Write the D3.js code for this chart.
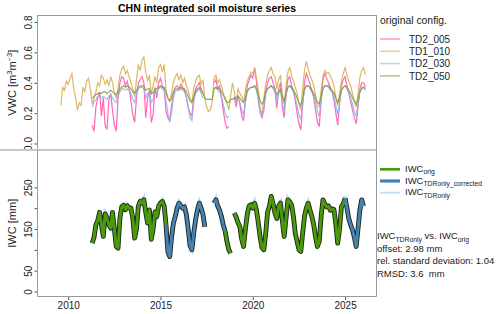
<!DOCTYPE html>
<html>
<head>
<meta charset="utf-8">
<script src="https://cdnjs.cloudflare.com/ajax/libs/d3/7.8.5/d3.min.js"></script>
<style>
  body { margin: 0; background: #fff; }
  svg { font-family: "Liberation Sans", Arial, sans-serif; }
</style>
</head>
<body>
<script>
var w = 500;
var h = 314;
var step = 0.1; // years between samples

// VWC [m3 m-3], TD1_010 starts earlier than the others
var td1Start = 2009.6;
var td1_010 = [
  0.25, 0.37, 0.35, 0.41,
  0.39, 0.43, 0.46, 0.36, 0.30, 0.22, 0.27, 0.25, 0.37, 0.34,
  0.41, 0.43, 0.36, 0.26, 0.30, 0.34, 0.40, 0.38, 0.45, 0.43,
  0.39, 0.42, 0.38, 0.44, 0.40, 0.33, 0.30, 0.36, 0.45, 0.49,
  0.51, 0.46, 0.48, 0.44, 0.40, 0.36, 0.31, 0.42, 0.52, 0.48,
  0.55, 0.57, 0.47, 0.41, 0.45, 0.32, 0.38, 0.44, 0.40, 0.50,
  0.52, 0.47, 0.52, 0.34, 0.30, 0.28, 0.33, 0.40, 0.44, 0.46,
  0.42, 0.45, 0.40, 0.43, 0.38, 0.35, 0.30, 0.27, 0.36, 0.41,
  0.44, 0.45, 0.39, 0.42, 0.30, 0.24, 0.21, 0.22, 0.27, 0.43,
  0.45, 0.40, 0.42, 0.38, 0.33, 0.30, 0.27, 0.22, 0.31, 0.40,
  0.34, 0.27, 0.36, 0.33, 0.31, 0.28, 0.35, 0.41, 0.44, 0.47,
  0.46, 0.49, 0.43, 0.35, 0.22, 0.20, 0.30, 0.39, 0.45, 0.48,
  0.50, 0.46, 0.44, 0.36, 0.42, 0.45, 0.32, 0.26, 0.38, 0.47,
  0.50, 0.45, 0.41, 0.37, 0.33, 0.26, 0.22, 0.36, 0.48, 0.54,
  0.49, 0.45, 0.42, 0.38, 0.32, 0.25, 0.24, 0.35, 0.44, 0.48,
  0.46, 0.47, 0.44, 0.42, 0.38, 0.30, 0.25, 0.33, 0.41, 0.46,
  0.50, 0.45, 0.41, 0.38, 0.33, 0.28, 0.24, 0.33, 0.43, 0.48,
  0.50, 0.45
];

var tdStart = 2011.3;
var td2_005 = [
  0.12, 0.08, 0.24, 0.30, 0.34, 0.18, 0.30,
  0.12, 0.09, 0.28, 0.33, 0.22, 0.12, 0.08, 0.30, 0.40, 0.44,
  0.43, 0.38, 0.41, 0.36, 0.28, 0.19, 0.14, 0.30, 0.40, 0.42,
  0.44, 0.40, 0.17, 0.30, 0.35, 0.14, 0.19, 0.37, 0.30, 0.40,
  0.43, 0.38, 0.36, 0.21, 0.17, 0.15, 0.25, 0.33, 0.37, 0.38,
  0.36, 0.39, 0.37, 0.35, 0.30, 0.24, 0.20, 0.18, 0.30, 0.36,
  0.38, 0.40, 0.36, 0.33, null, null, null, null, null, 0.40,
  0.42, 0.36, 0.38, 0.30, 0.22, 0.14, 0.10, 0.11, null, null,
  0.30, 0.24, 0.32, 0.26, 0.18, 0.15, 0.28, 0.38, 0.42, 0.45,
  0.43, 0.50, 0.40, 0.28, 0.20, 0.17, 0.22, 0.34, 0.40, 0.43,
  0.44, 0.40, 0.36, 0.23, 0.36, 0.40, 0.24, 0.17, 0.33, 0.42,
  0.44, 0.38, 0.35, 0.28, 0.20, 0.13, 0.09, 0.25, 0.40, 0.46,
  0.43, 0.39, 0.35, 0.30, 0.22, 0.14, 0.11, 0.28, 0.42, 0.46,
  0.43, 0.40, 0.37, 0.34, 0.28, 0.20, 0.12, 0.26, 0.38, 0.42,
  0.44, 0.38, 0.33, 0.28, 0.22, 0.17, 0.13, 0.24, 0.36, 0.40,
  0.40, 0.37
];
var td2_030 = [
  0.24, 0.27, 0.29, 0.31, 0.32, 0.30, 0.31,
  0.30, 0.29, 0.31, 0.32, 0.30, 0.28, 0.27, 0.31, 0.34, 0.36,
  0.36, 0.35, 0.36, 0.35, 0.33, 0.29, 0.27, 0.33, 0.36, 0.37,
  0.37, 0.36, 0.30, 0.33, 0.34, 0.27, 0.29, 0.35, 0.34, 0.36,
  0.37, 0.36, 0.35, 0.28, 0.20, 0.14, 0.20, 0.30, 0.34, 0.35,
  0.35, 0.36, 0.35, 0.34, 0.31, 0.24, 0.17, 0.15, 0.27, 0.33,
  0.35, 0.36, 0.33, 0.30, null, null, null, null, null, 0.36,
  0.37, 0.35, 0.34, 0.31, 0.26, 0.20, 0.17, 0.18, null, null,
  0.31, 0.28, 0.30, 0.27, 0.22, 0.19, 0.27, 0.34, 0.36, 0.37,
  0.37, 0.38, 0.35, 0.29, 0.22, 0.18, 0.24, 0.33, 0.36, 0.37,
  0.38, 0.36, 0.34, 0.28, 0.33, 0.35, 0.27, 0.21, 0.32, 0.37,
  0.38, 0.36, 0.34, 0.30, 0.25, 0.19, 0.16, 0.26, 0.35, 0.38,
  0.38, 0.36, 0.34, 0.31, 0.27, 0.21, 0.18, 0.29, 0.36, 0.38,
  0.38, 0.37, 0.35, 0.34, 0.31, 0.25, 0.19, 0.27, 0.35, 0.37,
  0.38, 0.36, 0.33, 0.30, 0.26, 0.21, 0.18, 0.26, 0.34, 0.37,
  0.37, 0.35
];
var td2_050 = [
  0.30, 0.31, 0.32, 0.33, 0.33, 0.33, 0.34,
  0.34, 0.33, 0.34, 0.35, 0.34, 0.33, 0.32, 0.34, 0.36, 0.37,
  0.38, 0.37, 0.38, 0.37, 0.36, 0.34, 0.33, 0.35, 0.37, 0.38,
  0.38, 0.38, 0.35, 0.36, 0.36, 0.33, 0.33, 0.36, 0.36, 0.37,
  0.38, 0.37, 0.37, 0.34, 0.30, 0.28, 0.30, 0.34, 0.36, 0.36,
  0.36, 0.37, 0.36, 0.36, 0.34, 0.31, 0.28, 0.27, 0.31, 0.34,
  0.36, 0.37, 0.35, 0.33, 0.30, 0.29, 0.29, 0.29, 0.29, 0.36,
  0.37, 0.36, 0.36, 0.34, 0.32, 0.29, 0.27, 0.27, 0.29, 0.29,
  0.30, 0.30, 0.31, 0.30, 0.28, 0.27, 0.30, 0.35, 0.36, 0.37,
  0.37, 0.38, 0.36, 0.32, 0.28, 0.26, 0.28, 0.34, 0.36, 0.37,
  0.38, 0.37, 0.36, 0.32, 0.34, 0.36, 0.31, 0.28, 0.33, 0.37,
  0.38, 0.37, 0.35, 0.33, 0.30, 0.27, 0.25, 0.30, 0.36, 0.38,
  0.38, 0.37, 0.35, 0.33, 0.30, 0.27, 0.26, 0.31, 0.36, 0.38,
  0.38, 0.38, 0.36, 0.35, 0.33, 0.30, 0.27, 0.30, 0.35, 0.37,
  0.38, 0.37, 0.35, 0.33, 0.30, 0.28, 0.26, 0.29, 0.34, 0.36,
  0.37, 0.36
];

// IWC [mm], same time grid as td2_*
var iwc = [
  116, 130, 160, 170, 190, 160, 132,
  186, 178, 160, 152, 190, 150, 108, 104, 175, 203,
  207, 196, 206, 200, 200, 175, 128, 150, 205, 216,
  212, 220, 190, 164, 196, 125, 150, 191, 180, 205,
  212, 216, 205, 160, 95, 84, 130, 164, 180, 200,
  212, 205, 200, 203, 185, 150, 110, 100, 140, 172,
  195, 212, 200, 185, 155, null, null, null, null, 212,
  220, 205, 195, 180, 160, 145, 120, 100, 92, null,
  188, 178, 165, 155, 125, 108, 150, 185, 205, 208,
  200, 212, 195, 164, 130, 105, 100, 140, 190, 205,
  228, 210, 188, 175, 205, 212, 170, 132, 175, 220,
  215, 208, 180, 140, 120, 100, 96, 140, 180, 200,
  212, 195, 180, 160, 130, 108, 120, 180, 220, 210,
  203, 205, 195, 198, 196, 160, 116, 150, 203, 210,
  224, 200, 175, 160, 148, 130, 108, 150, 196, 220,
  205, null
];
var iwcTdrOnly = [
  119, 133, 163, 174, 193, 163, 135,
  189, 181, 163, 155, 193, 153, 111, 107, 178, 207,
  210, 199, 209, 203, 203, 178, 131, 153, 208, 220,
  215, 224, 193, 167, 199, 128, 153, 194, 183, 208,
  215, 220, 208, 163, 98, 87, 133, 167, 183, 203,
  215, 208, 203, 206, 188, 153, 113, 103, 143, 175,
  198, 215, 203, 188, 158, null, null, null, null, 215,
  224, 208, 198, 183, 163, 148, 123, 103, 95, null,
  191, 181, 168, 158, 128, 111, 153, 188, 208, 211,
  203, 216, 198, 167, 133, 108, 103, 143, 193, 208,
  232, 213, 191, 178, 208, 215, 173, 135, 178, 224,
  218, 211, 183, 143, 123, 103, 99, 143, 183, 203,
  215, 198, 183, 163, 133, 111, 123, 183, 224, 213,
  206, 208, 198, 201, 199, 163, 119, 153, 206, 213,
  228, 203, 178, 163, 151, 133, 111, 153, 199, 224,
  208, null
];
// which source is used for the integrated series
var iwcSegments = [
  [2011.3, 2015.3, "orig"],
  [2015.3, 2017.4, "corr"],
  [2017.9, 2018.5, "corr"],
  [2018.5, 2018.8, "orig"],
  [2019.0, 2025.0, "orig"],
  [2025.0, 2026.0, "corr"]
];

var vwcNames = ["TD2_005", "TD1_010", "TD2_030", "TD2_050"];
var vwcColors = ["#ff4fa8", "#d6ab4a", "#8db2ea", "#7d9c36"];
var vwcTicks = [0, 0.2, 0.4, 0.6, 0.8];
var iwcTicks = [0, 50, 100, 150, 200, 250];
var iwcTickLabels = [0, 50, 150, 250];
var yearTicks = [2010, 2015, 2020, 2025];

var left = 37.5, right = 376.5;
var topY = 15.5, midY = 150, bottomY = 296.5;

function toPoints(arr, start) {
  return arr.map(function(v, i) { return { t: start + i * step, v: v }; });
}

var x = d3.scaleLinear().domain([2010, 2025]).range([68.2, 345.1]);
var yV = d3.scaleLinear().domain([0, 0.8]).range([143.5, 22]);
var yI = d3.scaleLinear().domain([0, 250]).range([291.5, 187.3]);

var svg = d3.select("body").append("svg")
  .attr("width", w)
  .attr("height", h);

svg.append("clipPath").attr("id", "clipTop")
  .append("rect").attr("x", left).attr("y", topY).attr("width", right - left).attr("height", midY - topY);
svg.append("clipPath").attr("id", "clipBot")
  .append("rect").attr("x", left).attr("y", midY).attr("width", right - left).attr("height", bottomY - midY);

// title
svg.append("text")
  .attr("x", (left + right) / 2)
  .attr("y", 12)
  .attr("text-anchor", "middle")
  .style("font-size", "10.5px")
  .style("font-weight", "bold")
  .text("CHN integrated soil moisture series");

// ---- top panel: VWC
var vLine = d3.line()
  .defined(function(d) { return d.v != null; })
  .x(function(d) { return x(d.t); })
  .y(function(d) { return yV(d.v); });

var vwcSeries = [
  toPoints(td2_005, tdStart),
  toPoints(td1_010, td1Start),
  toPoints(td2_030, tdStart),
  toPoints(td2_050, tdStart)
];

var gTop = svg.append("g").attr("clip-path", "url(#clipTop)");
vwcSeries.forEach(function(s, i) {
  gTop.append("path")
    .datum(s)
    .attr("d", vLine)
    .attr("fill", "none")
    .attr("stroke", vwcColors[i])
    .attr("stroke-opacity", 0.85)
    .attr("stroke-width", 1.2);
});

var yAxisTop = d3.axisLeft(yV).tickValues(vwcTicks).tickSize(3).tickFormat(d3.format(".1f"));
var gyT = svg.append("g").attr("transform", "translate(" + left + ",0)").call(yAxisTop);
gyT.select(".domain").remove();
gyT.selectAll("line").attr("stroke", "#555");
gyT.selectAll("text")
  .attr("x", 0).attr("y", -6).attr("dy", 0)
  .attr("transform", "rotate(-90)")
  .attr("text-anchor", "middle")
  .style("font-size", "10px")
  .attr("fill", "#222");

var vLab = svg.append("text")
  .attr("transform", "translate(16," + ((topY + midY) / 2) + ") rotate(-90)")
  .attr("text-anchor", "middle")
  .style("font-size", "11px")
  .attr("fill", "#222");
vLab.append("tspan").text("VWC [m");
vLab.append("tspan").attr("dy", -4).style("font-size", "7.5px").text("3");
vLab.append("tspan").attr("dy", 4).text("m");
vLab.append("tspan").attr("dy", -4).style("font-size", "7.5px").text("\u22123");
vLab.append("tspan").attr("dy", 4).text("]");

// frames
svg.append("rect")
  .attr("x", left).attr("y", topY).attr("width", right - left).attr("height", midY - topY)
  .attr("fill", "none").attr("stroke", "#999");
svg.append("line")
  .attr("x1", 0).attr("x2", right).attr("y1", midY).attr("y2", midY)
  .attr("stroke", "#c8c8c8").attr("stroke-width", 2);

// top legend
svg.append("text").attr("x", 380).attr("y", 24)
  .style("font-size", "10.4px").attr("fill", "#222").text("original config.");
vwcNames.forEach(function(n, i) {
  var yy = 39 + i * 12.3;
  svg.append("line").attr("x1", 380).attr("x2", 400).attr("y1", yy).attr("y2", yy)
    .attr("stroke", vwcColors[i]).attr("stroke-opacity", 0.6).attr("stroke-width", 1.5);
  svg.append("text").attr("x", 409).attr("y", yy + 3.6)
    .style("font-size", "10px").attr("fill", "#222").text(n);
});

// ---- bottom panel: IWC
var iLine = d3.line()
  .defined(function(d) { return d.v != null; })
  .x(function(d) { return x(d.t); })
  .y(function(d) { return yI(d.v); });

var iwcPts = toPoints(iwc, tdStart);
var tdrPts = toPoints(iwcTdrOnly, tdStart);
var gBot = svg.append("g").attr("clip-path", "url(#clipBot)");

gBot.append("path")
  .datum(tdrPts)
  .attr("d", iLine)
  .attr("fill", "none")
  .attr("stroke", "#c6dff2")
  .attr("stroke-width", 3.6);

var segColor = { orig: "#4a9a0c", corr: "#4682b4" };
var segData = iwcSegments.map(function(s) {
  return {
    kind: s[2],
    pts: iwcPts.filter(function(d) { return d.t >= s[0] - 1e-6 && d.t <= s[1] + 1e-6; })
  };
});
segData.forEach(function(s) {
  gBot.append("path").datum(s.pts).attr("d", iLine)
    .attr("fill", "none").attr("stroke", "#1c2418").attr("stroke-width", 4.8)
    .attr("stroke-linejoin", "round");
});
segData.forEach(function(s) {
  gBot.append("path").datum(s.pts).attr("d", iLine)
    .attr("fill", "none").attr("stroke", segColor[s.kind]).attr("stroke-width", 3)
    .attr("stroke-linejoin", "round");
});

var yAxisBot = d3.axisLeft(yI).tickValues(iwcTicks).tickSize(3)
  .tickFormat(function(d) { return iwcTickLabels.indexOf(d) >= 0 ? d : ""; });
var gyB = svg.append("g").attr("transform", "translate(" + left + ",0)").call(yAxisBot);
gyB.select(".domain").remove();
gyB.selectAll("line").attr("stroke", "#555");
gyB.selectAll("text")
  .attr("x", 0).attr("y", -6).attr("dy", 0)
  .attr("transform", "rotate(-90)")
  .attr("text-anchor", "middle")
  .style("font-size", "10px")
  .attr("fill", "#222");

svg.append("text")
  .attr("transform", "translate(16," + ((midY + bottomY) / 2) + ") rotate(-90)")
  .attr("text-anchor", "middle")
  .style("font-size", "11px")
  .attr("fill", "#222")
  .text("IWC [mm]");

var xAxis = d3.axisBottom(x).tickValues(yearTicks).tickSize(3.5).tickPadding(2).tickFormat(d3.format("d"));
var gx = svg.append("g").attr("transform", "translate(0," + bottomY + ")").call(xAxis);
gx.select(".domain").remove();
gx.selectAll("line").attr("stroke", "#555");
gx.selectAll("text").style("font-size", "10px").attr("fill", "#222");

svg.append("path")
  .attr("d", "M" + left + "," + midY + "V" + bottomY + "H" + right + "V" + midY)
  .attr("fill", "none").attr("stroke", "#999");

// bottom legend
var botLegend = [
  { main: "IWC", sub: "orig", color: "#4a9a0c", width: 2.7 },
  { main: "IWC", sub: "TDRonly_corrected", color: "#4682b4", width: 3.2 },
  { main: "IWC", sub: "TDRonly", color: "#c6dff2", width: 1.8 }
];
botLegend.forEach(function(l, i) {
  var yy = 169.3 + i * 11.7;
  svg.append("line").attr("x1", 380).attr("x2", 400).attr("y1", yy).attr("y2", yy)
    .attr("stroke", l.color).attr("stroke-width", l.width);
  var t = svg.append("text").attr("x", 405).attr("y", yy + 2.5)
    .style("font-size", "9.5px").attr("fill", "#222");
  t.append("tspan").text(l.main);
  t.append("tspan").attr("dy", 2.5).style("font-size", "6.8px").text(l.sub);
});

// comparison stats
var s1 = svg.append("text").attr("x", 377).attr("y", 239)
  .style("font-size", "9.5px").attr("fill", "#222");
s1.append("tspan").text("IWC");
s1.append("tspan").attr("dy", 2.5).style("font-size", "6.8px").text("TDRonly");
s1.append("tspan").attr("dy", -2.5).text(" vs. IWC");
s1.append("tspan").attr("dy", 2.5).style("font-size", "6.8px").text("orig");

var statLines = ["offset: 2.98 mm", "rel. standard deviation: 1.04", "RMSD: 3.6  mm"];
statLines.forEach(function(s, i) {
  svg.append("text").attr("x", 377).attr("y", 251.5 + i * 12.5)
    .style("font-size", "9.5px").attr("fill", "#222")
    .style("white-space", "pre")
    .text(s);
});
</script>
</body>
</html>
